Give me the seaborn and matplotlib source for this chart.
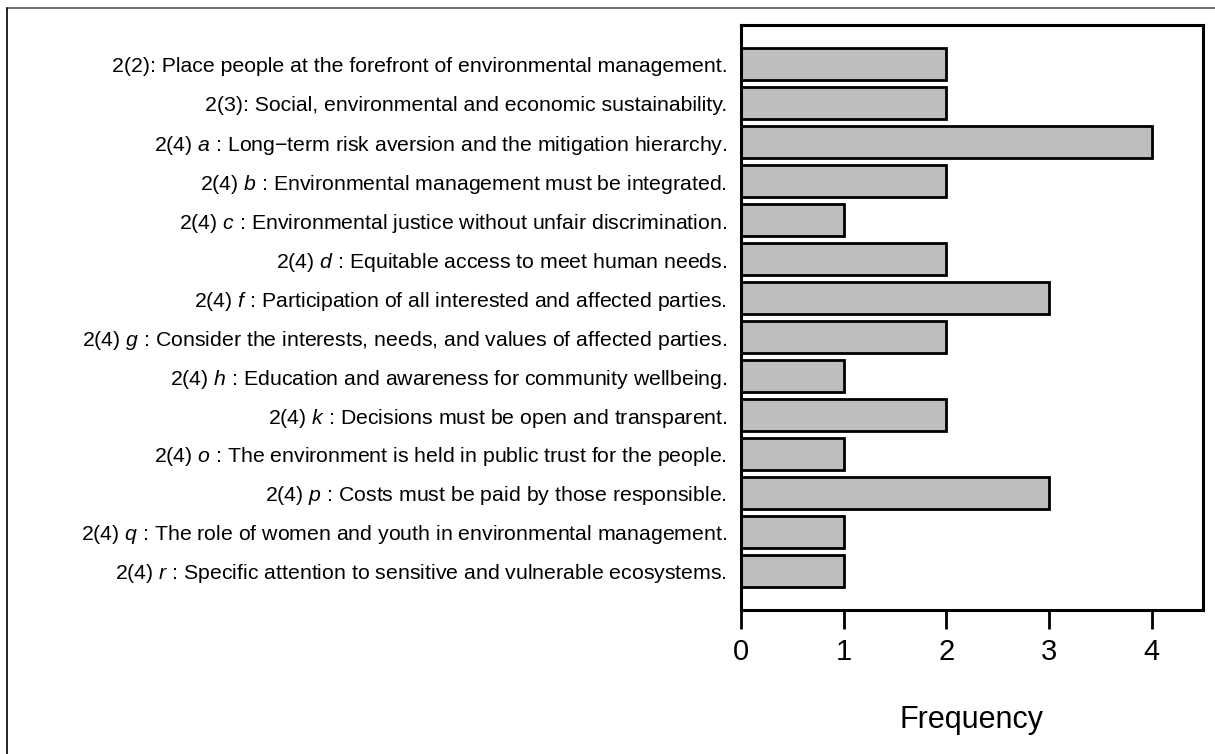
import seaborn as sns
import pandas as pd
import matplotlib.pyplot as plt
from matplotlib.lines import Line2D

# principles (codes, italic letter, description) and their counts
codes = ["2(2):", "2(3):", "2(4)", "2(4)", "2(4)", "2(4)", "2(4)", "2(4)",
         "2(4)", "2(4)", "2(4)", "2(4)", "2(4)", "2(4)"]
letters = ["", "", "a", "b", "c", "d", "f", "g", "h", "k", "o", "p", "q", "r"]
descriptions = [
    "Place people at the forefront of environmental management.",
    "Social, environmental and economic sustainability.",
    "Long\u2212term risk aversion and the mitigation hierarchy.",
    "Environmental management must be integrated.",
    "Environmental justice without unfair discrimination.",
    "Equitable access to meet human needs.",
    "Participation of all interested and affected parties.",
    "Consider the interests, needs, and values of affected parties.",
    "Education and awareness for community wellbeing.",
    "Decisions must be open and transparent.",
    "The environment is held in public trust for the people.",
    "Costs must be paid by those responsible.",
    "The role of women and youth in environmental management.",
    "Specific attention to sensitive and vulnerable ecosystems.",
]
frequency = [2, 2, 4, 2, 1, 2, 3, 2, 1, 2, 1, 3, 1, 1]

labels = []
for c, l, d in zip(codes, letters, descriptions):
    if l:
        labels.append(c + " $\\mathit{" + l + "}$ : " + d)
    else:
        labels.append(c + " " + d)

df = pd.DataFrame({"principle": labels, "Frequency": frequency})

sns.set_style("white")
plt.rcParams["font.family"] = ["Liberation Sans", "DejaVu Sans"]
plt.rcParams["mathtext.fontset"] = "custom"
plt.rcParams["mathtext.rm"] = "Liberation Sans"
plt.rcParams["mathtext.it"] = "Liberation Sans:italic"
for k in ["text.color", "axes.labelcolor", "xtick.color", "ytick.color"]:
    plt.rcParams[k] = "black"

fig = plt.figure(figsize=(12.15, 7.54), dpi=100)
ax = fig.add_axes([0.6099, 0.1910, 0.3802, 0.7758])

sns.barplot(data=df, x="Frequency", y="principle", orient="h", color="#BEBEBE",
            saturation=1, edgecolor="black", linewidth=2.0, width=0.83, ax=ax)

ax.set_xlim(0, 4.5)
ax.set_ylim(14, -1)
ax.set_xticks([0, 1, 2, 3, 4])
ax.tick_params(axis="x", direction="out", length=14, width=2.0, labelsize=21,
               pad=6, bottom=True, color="black")
ax.tick_params(axis="y", length=0, labelsize=15.3, pad=10)
ax.set_ylabel("")
ax.set_xlabel("Frequency", fontsize=22, labelpad=28)
for s in ax.spines.values():
    s.set_visible(True)
    s.set_color("black")
    s.set_linewidth(2.2)

# figure border (top and left)
fig.add_artist(Line2D([0.006, 1], [0.989, 0.989], transform=fig.transFigure,
                      color="#555555", linewidth=1.2))
fig.add_artist(Line2D([0.006, 0.006], [0, 0.989], transform=fig.transFigure,
                      color="black", linewidth=1.2))

fig.savefig("out.png", dpi=100)
